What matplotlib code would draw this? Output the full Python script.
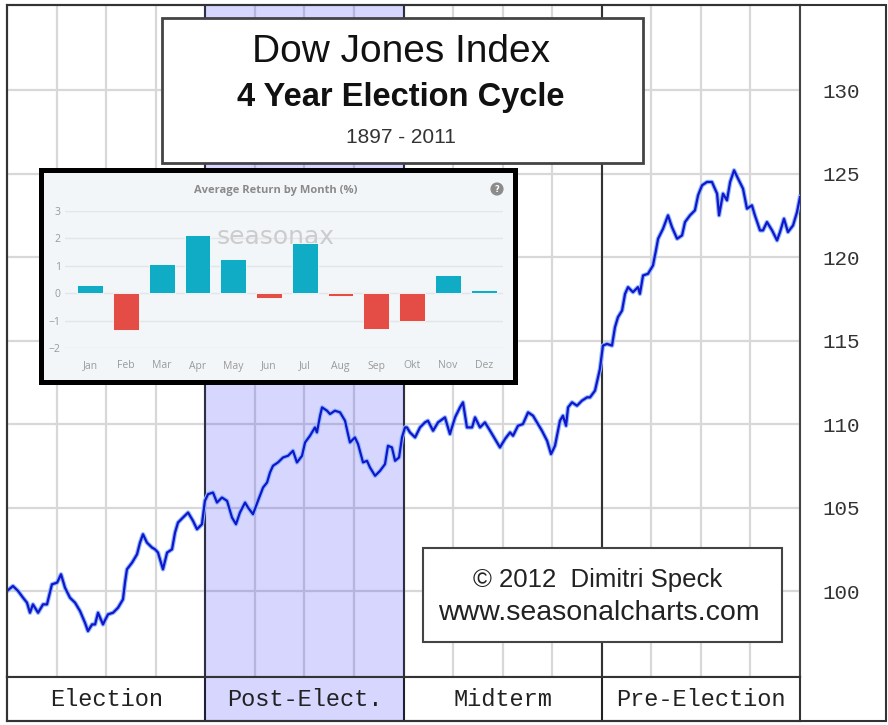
import matplotlib
matplotlib.use("Agg")
import matplotlib.pyplot as plt
from matplotlib.patches import Rectangle

# month of the 4 year cycle (0 = start of election year) and index level
months = [
    0.00, 0.36, 0.67, 0.97, 1.21, 1.39, 1.57, 1.88, 2.18, 2.42, 2.72, 3.03,
    3.27, 3.51, 3.81, 4.12, 4.42, 4.72, 4.90, 5.15, 5.33, 5.51, 5.81, 6.11,
    6.42, 6.72, 7.02, 7.14, 7.26, 7.57, 7.87, 8.05, 8.23, 8.47, 8.78, 8.96,
    9.14, 9.44, 9.69, 9.99, 10.17, 10.35, 10.65, 10.96, 11.26, 11.50, 11.80,
    11.98, 12.17, 12.47, 12.71, 13.01, 13.32, 13.62, 13.86, 14.10, 14.41,
    14.59, 14.89, 15.19, 15.50, 15.74, 15.92, 16.10, 16.40, 16.71, 17.01,
    17.31, 17.55, 17.86, 18.04, 18.34, 18.64, 18.76, 18.95, 19.07, 19.37,
    19.55, 19.85, 20.16, 20.46, 20.64, 20.76, 21.06, 21.25, 21.55, 21.79,
    21.97, 22.28, 22.58, 22.88, 23.06, 23.30, 23.49, 23.73, 23.91, 24.09,
    24.21, 24.39, 24.70, 25.00, 25.30, 25.48, 25.79, 26.09, 26.51, 26.81,
    27.12, 27.42, 27.60, 27.84, 28.15, 28.33, 28.63, 28.93, 29.24, 29.54,
    29.84, 30.14, 30.45, 30.63, 30.93, 31.23, 31.54, 31.84, 32.08, 32.38,
    32.69, 32.93, 33.17, 33.47, 33.65, 33.84, 33.96, 34.20, 34.50, 34.80,
    35.11, 35.29, 35.59, 35.89, 36.07, 36.32, 36.62, 36.80, 36.98, 37.23,
    37.41, 37.59, 37.89, 38.19, 38.31, 38.50, 38.80, 39.10, 39.28, 39.41,
    39.71, 40.01, 40.25, 40.56, 40.86, 41.04, 41.34, 41.64, 41.83, 42.07,
    42.37, 42.67, 42.98, 43.10, 43.34, 43.58, 43.77, 44.01, 44.25, 44.55,
    44.79, 45.09, 45.27, 45.58, 45.76, 46.00, 46.31, 46.61, 46.79, 47.03,
    47.27, 47.58, 47.82, 48.00,
]
dow = [
    100.0, 100.3, 100.0, 99.6, 99.3, 98.7, 99.2, 98.7, 99.2, 99.2, 100.4, 100.5,
    101.0, 100.2, 99.6, 99.3, 98.8, 98.1, 97.6, 98.0, 98.0, 98.7, 98.0, 98.6,
    98.7, 99.0, 99.5, 100.5, 101.3, 101.7, 102.2, 102.9, 103.4, 102.9, 102.6, 102.5,
    102.3, 101.3, 102.3, 102.5, 103.5, 104.1, 104.4, 104.7, 104.2, 103.7, 104.0,
    105.4, 105.8, 105.9, 105.3, 105.6, 105.4, 104.4, 104.0, 104.7, 105.3,
    105.0, 104.6, 105.4, 106.2, 106.5, 107.1, 107.5, 107.7, 108.0, 108.1,
    108.4, 107.7, 108.1, 108.9, 109.3, 109.8, 109.5, 110.5, 111.0, 110.8,
    110.6, 110.8, 110.7, 110.2, 109.4, 108.9, 109.2, 108.8, 107.7, 107.8,
    107.4, 106.9, 107.2, 107.6, 108.7, 108.6, 107.8, 108.0, 109.2, 109.8,
    109.8, 109.5, 109.2, 109.8, 110.1, 110.2, 109.6, 110.1, 110.4, 109.4,
    110.4, 111.0, 111.3, 109.8, 109.8, 110.4, 109.8, 110.1, 109.6, 109.1,
    108.6, 109.1, 109.5, 109.3, 109.9, 110.0, 110.7, 110.5, 110.1, 109.6,
    109.0, 108.2, 108.7, 110.2, 110.5, 109.9, 111.0, 111.3, 111.1, 111.4,
    111.6, 111.6, 112.0, 113.3, 114.7, 114.8, 114.7, 115.8, 116.4, 116.8,
    117.8, 118.2, 117.9, 118.2, 117.8, 118.9, 119.0, 119.5, 120.4, 121.1,
    121.7, 122.5, 121.8, 121.1, 121.3, 122.1, 122.5, 122.8, 123.7, 124.3,
    124.5, 124.5, 123.8, 122.5, 123.8, 123.4, 124.5, 125.2, 124.7, 124.1,
    122.9, 123.1, 122.5, 121.6, 121.6, 122.1, 121.6, 121.0, 121.5, 122.3,
    121.5, 121.9, 122.7, 123.6,
]
phase_names = ["Election", "Post-Elect.", "Midterm", "Pre-Election"]
y_ticks = [100, 105, 110, 115, 120, 125, 130]

inset_months = ["Jan", "Feb", "Mar", "Apr", "May", "Jun",
                "Jul", "Aug", "Sep", "Okt", "Nov", "Dez"]
inset_returns = [0.30, -1.35, 1.05, 2.14, 1.25, -0.18,
                 1.84, -0.12, -1.30, -1.00, 0.65, 0.12]
inset_ticks = [-2, -1, 0, 1, 2, 3]

W, H = 888, 725


def box(x0, y0, x1, y1):
    # pixel rectangle (top-left origin) -> figure fraction [l, b, w, h]
    return [x0 / W, 1 - y1 / H, (x1 - x0) / W, (y1 - y0) / H]


def fx(x):
    return x / W


def fy(y):
    return 1 - y / H


fig = plt.figure(figsize=(W / 100, H / 100), dpi=100)
fig.patch.set_facecolor("white")

shade = dict(color=(0, 0, 1), alpha=0.16, lw=0)

# main chart
ax = fig.add_axes(box(7, 5, 800, 677))
ax.set_xlim(0, 48)
ax.set_ylim(94.85, 135.1)
ax.set_xticks(range(0, 49, 3))
ax.set_xticklabels([])
ax.set_yticks(y_ticks)
ax.yaxis.tick_right()
ax.tick_params(axis="both", length=0)
ax.tick_params(axis="y", pad=16, labelsize=15, labelcolor="#333333")
for lab in ax.get_yticklabels():
    lab.set_family("Liberation Mono")
ax.grid(True, color="#d8d8d8", lw=1.6)
ax.set_axisbelow(True)
ax.axvspan(12, 24, **shade)
for b in [12, 24, 36]:
    ax.axvline(b, color="#333333", lw=1.5, zorder=0.8)
ax.plot(months, dow, color="#8ab8ff", lw=3.2, zorder=3, solid_joinstyle="round")
ax.plot(months, dow, color="#1414c8", lw=1.6, zorder=4, solid_joinstyle="round")
for s in ax.spines.values():
    s.set_color("#444444")
    s.set_linewidth(1.5)

# phase band at the bottom
band = fig.add_axes(box(7, 677, 800, 721))
band.set_xlim(0, 48)
band.set_ylim(0, 1)
band.set_xticks([])
band.set_yticks([])
band.axvspan(12, 24, **shade)
for b in [12, 24, 36]:
    band.axvline(b, color="#222222", lw=1.5, zorder=0.8)
for i, name in enumerate(phase_names):
    band.text(6 + 12 * i, 0.5, name, ha="center", va="center",
              family="Liberation Mono", fontsize=17, color="#222222")
for s in band.spines.values():
    s.set_color("#333333")
    s.set_linewidth(1.5)

# outer frame
fig.add_artist(Rectangle((fx(7), fy(721)), (886 - 7) / W, (721 - 5) / H,
                         transform=fig.transFigure, fill=False,
                         ec="#333333", lw=1.5))

# title box
fig.add_artist(Rectangle((fx(162), fy(163)), (643 - 162) / W, (163 - 18) / H,
                         transform=fig.transFigure, fc="white",
                         ec="#444444", lw=2, zorder=10))
fig.text(fx(401), fy(62), "Dow Jones Index", ha="center", va="baseline",
         family="Liberation Sans", fontsize=28, color="#111111", zorder=11)
fig.text(fx(401), fy(106), "4 Year Election Cycle", ha="center", va="baseline",
         family="Liberation Sans", fontsize=23.5, weight="bold",
         color="#111111", zorder=11)
fig.text(fx(401), fy(143), "1897 - 2011", ha="center", va="baseline",
         family="Liberation Sans", fontsize=15, color="#333333", zorder=11)

# credit box
fig.add_artist(Rectangle((fx(423), fy(642)), (782 - 423) / W, (642 - 548) / H,
                         transform=fig.transFigure, fc="white",
                         ec="#444444", lw=1.5, zorder=10))
fig.text(fx(598), fy(587), "\u00a9 2012  Dimitri Speck", ha="center",
         va="baseline", family="Liberation Sans", fontsize=18.5,
         color="#222222", zorder=11)
fig.text(fx(599), fy(620), "www.seasonalcharts.com", ha="center",
         va="baseline", family="Liberation Sans", fontsize=20.5,
         color="#222222", zorder=11)

# inset: average return by month
fig.add_artist(Rectangle((fx(40.5), fy(381.5)), (514.5 - 40.5) / W,
                         (381.5 - 169.5) / H, transform=fig.transFigure,
                         fc="#f3f6f9", ec="black", lw=3.6, zorder=10))
ins = fig.add_axes(box(65, 211, 503, 348), zorder=11)
ins.patch.set_alpha(0)
ins.set_xlim(-0.70, 11.54)
ins.set_ylim(-2, 3)
colors = ["#10abc4" if v >= 0 else "#e34d45" for v in inset_returns]
ins.bar(range(len(inset_returns)), inset_returns, width=0.72, color=colors,
        edgecolor="white", linewidth=0.6, zorder=3)
ins.set_yticks(inset_ticks)
ins.set_xticks(range(len(inset_months)))
ins.set_xticklabels(inset_months)
ins.tick_params(axis="both", length=0, labelsize=7.5, labelcolor="#999999")
ins.tick_params(axis="y", pad=3)
ins.tick_params(axis="x", pad=9)
for lab in ins.get_xticklabels() + ins.get_yticklabels():
    lab.set_family("Open Sans")
ins.grid(axis="y", color="#e2e5e9", lw=1)
ins.set_axisbelow(True)
for s in ins.spines.values():
    s.set_visible(False)
ins.text(fx(276), fy(237), "seasonax", transform=fig.transFigure,
         ha="center", va="center", fontsize=18, color="#cccccc",
         family="DejaVu Sans", zorder=1)
fig.text(fx(276), fy(190), "Average Return by Month (%)", ha="center",
         va="center", family="Open Sans", weight="bold", fontsize=8,
         color="#8a8a8a", zorder=12)
fig.text(fx(497), fy(189), "?", ha="center", va="center", fontsize=6,
         weight="bold", color="white", zorder=12,
         bbox=dict(boxstyle="circle,pad=0.25", fc="#8c8c8c", ec="none"))

fig.savefig("out.png", dpi=100)
